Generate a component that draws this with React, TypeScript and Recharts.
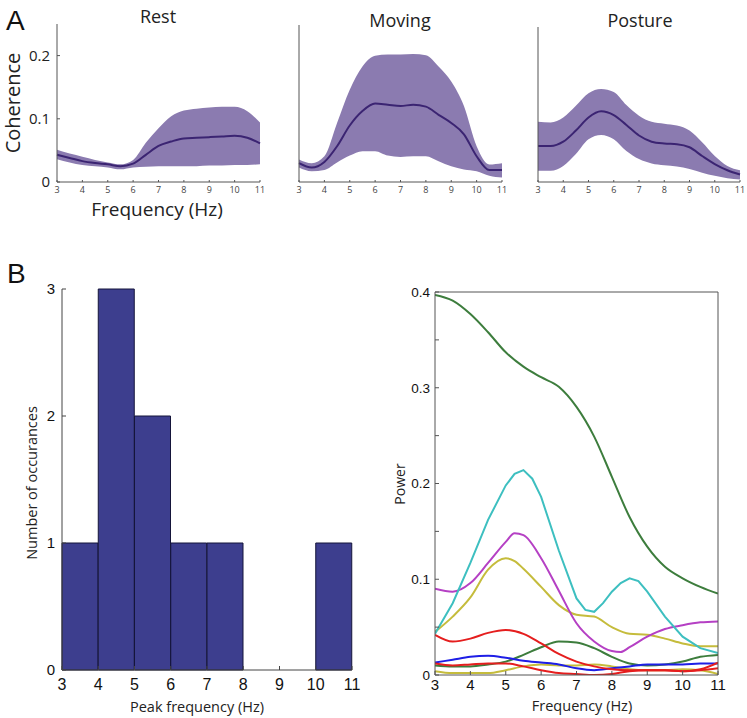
import React from 'react';
import { ComposedChart, LineChart, BarChart, Area, Line, Bar, XAxis, YAxis } from 'recharts';

// ---------- Panel A: coherence ----------
const cohFreq = [3, 3.5, 4, 4.5, 5, 5.5, 6, 6.5, 7, 7.5, 8, 8.5, 9, 9.5, 10, 10.5, 11];

const restMean = [0.043, 0.038, 0.033, 0.030, 0.028, 0.025, 0.029, 0.043, 0.057, 0.064, 0.069, 0.070, 0.071, 0.072, 0.073, 0.070, 0.061];
const restLower = [0.036, 0.031, 0.027, 0.025, 0.023, 0.020, 0.023, 0.024, 0.025, 0.025, 0.025, 0.025, 0.026, 0.026, 0.027, 0.027, 0.028];
const restUpper = [0.051, 0.045, 0.040, 0.035, 0.031, 0.028, 0.035, 0.062, 0.085, 0.104, 0.113, 0.116, 0.118, 0.119, 0.119, 0.112, 0.094];

const movingMean = [0.030, 0.023, 0.032, 0.057, 0.090, 0.113, 0.125, 0.123, 0.121, 0.123, 0.120, 0.107, 0.094, 0.076, 0.041, 0.019, 0.019];
const movingLower = [0.023, 0.017, 0.019, 0.031, 0.042, 0.049, 0.049, 0.042, 0.040, 0.041, 0.041, 0.033, 0.025, 0.020, 0.017, 0.010, 0.007];
const movingUpper = [0.036, 0.030, 0.041, 0.094, 0.147, 0.184, 0.201, 0.203, 0.203, 0.204, 0.202, 0.184, 0.160, 0.121, 0.057, 0.028, 0.030];

const postureMean = [0.058, 0.058, 0.065, 0.083, 0.104, 0.114, 0.108, 0.092, 0.075, 0.065, 0.062, 0.061, 0.056, 0.042, 0.029, 0.019, 0.012];
const postureLower = [0.018, 0.018, 0.026, 0.045, 0.069, 0.076, 0.069, 0.050, 0.037, 0.030, 0.027, 0.025, 0.021, 0.015, 0.010, 0.006, 0.004];
const postureUpper = [0.097, 0.096, 0.104, 0.123, 0.143, 0.150, 0.145, 0.124, 0.107, 0.097, 0.094, 0.091, 0.083, 0.064, 0.042, 0.026, 0.019];

const freqTicks = [3, 4, 5, 6, 7, 8, 9, 10, 11];
const cohTicks = [0, 0.1, 0.2];

// ---------- Panel B left: histogram ----------
const histBinCenters = [3.5, 4.5, 5.5, 6.5, 7.5, 8.5, 9.5, 10.5];
const histCounts = [1, 3, 2, 1, 1, 0, 0, 1];
const histYTicks = [0, 1, 2, 3];

// ---------- Panel B right: power ----------
const pFreq = [3, 3.5, 4, 4.5, 5, 5.5, 6, 6.5, 7, 7.5, 8, 8.5, 9, 9.5, 10, 10.5, 11];
const greenHigh = [0.397, 0.391, 0.377, 0.358, 0.337, 0.322, 0.311, 0.301, 0.280, 0.249, 0.207, 0.165, 0.134, 0.113, 0.101, 0.092, 0.085];
const redHigh = [0.042, 0.035, 0.038, 0.044, 0.047, 0.043, 0.033, 0.022, 0.014, 0.009, 0.006, 0.005, 0.005, 0.005, 0.004, 0.005, 0.007];
const redLow = [0.012, 0.010, 0.011, 0.012, 0.012, 0.009, 0.005, 0.002, 0.001, 0.000, 0.001, 0.004, 0.005, 0.005, 0.004, 0.006, 0.013];
const bluePower = [0.013, 0.016, 0.019, 0.020, 0.018, 0.015, 0.013, 0.011, 0.007, 0.005, 0.007, 0.009, 0.011, 0.011, 0.011, 0.012, 0.012];
const greenLow = [0.010, 0.009, 0.009, 0.011, 0.014, 0.021, 0.029, 0.035, 0.034, 0.028, 0.019, 0.012, 0.010, 0.011, 0.014, 0.019, 0.021];
const yellowLow = [0.004, 0.002, 0.002, 0.002, 0.005, 0.009, 0.011, 0.010, 0.010, 0.011, 0.009, 0.006, 0.005, 0.005, 0.006, 0.005, 0.001];

const cyanFreq = [3, 3.5, 4, 4.5, 5, 5.25, 5.5, 5.75, 6, 6.5, 7, 7.25, 7.5, 7.75, 8, 8.25, 8.5, 8.75, 9, 9.5, 10, 10.5, 11];
const cyanPower = [0.043, 0.075, 0.117, 0.162, 0.198, 0.210, 0.214, 0.205, 0.186, 0.130, 0.080, 0.068, 0.066, 0.075, 0.087, 0.096, 0.101, 0.098, 0.087, 0.061, 0.040, 0.028, 0.023];

const magentaFreq = [3, 3.5, 4, 4.5, 5, 5.25, 5.5, 6, 6.5, 7, 7.5, 8, 8.25, 8.5, 9, 9.5, 10, 10.5, 11];
const magentaPower = [0.090, 0.087, 0.096, 0.117, 0.139, 0.148, 0.146, 0.122, 0.088, 0.054, 0.035, 0.025, 0.024, 0.029, 0.040, 0.048, 0.052, 0.055, 0.056];

const yellowFreq = [3, 3.5, 4, 4.5, 5, 5.25, 5.5, 6, 6.5, 7, 7.5, 8, 8.5, 9, 9.5, 10, 10.5, 11];
const yellowPower = [0.045, 0.061, 0.081, 0.110, 0.122, 0.119, 0.111, 0.092, 0.073, 0.063, 0.061, 0.050, 0.043, 0.042, 0.038, 0.033, 0.030, 0.030];

const powerYTicks = [0, 0.05, 0.1, 0.15, 0.2, 0.25, 0.3, 0.35, 0.4];

const SANS = 'Open Sans';
const ARIAL = 'Liberation Sans';

const toSeries = (xs: number[], ys: number[]) => xs.map((f, i) => ({ f, p: ys[i] }));

type CohProps = {
  left: number; top: number; width: number; height: number;
  margin: { top: number; right: number; bottom: number; left: number };
  mean: number[]; lower: number[]; upper: number[]; showY: boolean;
};

function CoherencePanel({ left, top, width, height, margin, mean, lower, upper, showY }: CohProps) {
  const data = cohFreq.map((f, i) => ({ f, band: [lower[i], upper[i]], mean: mean[i] }));
  return (
    <div style={{ position: 'absolute', left, top }}>
      <ComposedChart width={width} height={height} data={data} margin={margin}>
        <XAxis
          dataKey="f" type="number" domain={[3, 11]} ticks={freqTicks} interval={0}
          height={20} tickSize={-2} tickMargin={7} stroke="#555"
          tick={{ fontSize: 9, fill: '#444', fontFamily: SANS }}
        />
        <YAxis
          type="number" domain={[0, 0.25]} ticks={cohTicks} interval={0}
          width={30} tickSize={-3} tickMargin={10} stroke="#555"
          tick={showY ? { fontSize: 15, fill: '#222', fontFamily: SANS } : false}
          tickFormatter={(v: number) => (v === 0 ? '0' : v.toFixed(1))}
        />
        <Area dataKey="band" type="monotone" stroke="none" fill="#8b7bb0" fillOpacity={1} isAnimationActive={false} />
        <Line dataKey="mean" type="monotone" stroke="#3b2472" strokeWidth={2} dot={false} activeDot={false} isAnimationActive={false} />
      </ComposedChart>
    </div>
  );
}

function Histogram() {
  const data = histBinCenters.map((c, i) => ({ c, n: histCounts[i] }));
  return (
    <div style={{ position: 'absolute', left: 0, top: 270 }}>
      <BarChart width={370} height={448} data={data} margin={{ top: 19, right: 18, bottom: 23, left: 22 }} barCategoryGap={0} barGap={0}>
        <XAxis
          dataKey="c" type="number" domain={[3, 11]} ticks={freqTicks} interval={0}
          height={25} tickSize={-4} tickMargin={13} stroke="#444"
          tick={{ fontSize: 16, fill: '#111', fontFamily: ARIAL }}
        />
        <YAxis
          type="number" domain={[0, 3]} ticks={histYTicks} interval={0}
          width={40} tickSize={-4} tickMargin={11} stroke="#444"
          tick={{ fontSize: 15, fill: '#111', fontFamily: ARIAL }}
        />
        <Bar dataKey="n" fill="#3d3e8e" stroke="#15153a" strokeWidth={1} barSize={36} isAnimationActive={false} />
      </BarChart>
    </div>
  );
}

function PowerChart() {
  const lineProps = { type: 'monotone' as const, strokeWidth: 2, dot: false, activeDot: false, isAnimationActive: false, xAxisId: 'b', yAxisId: 'l', dataKey: 'p' };
  const fmtY = (v: number) => {
    const t = v * 10;
    if (Math.abs(t - Math.round(t)) > 1e-6) return '';
    return v === 0 ? '0' : v.toFixed(1);
  };
  return (
    <div style={{ position: 'absolute', left: 370, top: 270 }}>
      <LineChart width={377} height={448} margin={{ top: 20, right: 27, bottom: 18, left: 25 }}>
        <XAxis
          xAxisId="b" dataKey="f" type="number" domain={[3, 11]} ticks={freqTicks} interval={0}
          height={25} tickSize={-4} tickMargin={8} stroke="#555" allowDataOverflow
          tick={{ fontSize: 15, fill: '#111', fontFamily: ARIAL }}
        />
        <XAxis
          xAxisId="t" orientation="top" dataKey="f" type="number" domain={[3, 11]} ticks={freqTicks} interval={0}
          height={2} tickSize={-4} stroke="#555" tick={false} allowDataOverflow
        />
        <YAxis
          yAxisId="l" type="number" domain={[0, 0.4]} ticks={powerYTicks} interval={0}
          width={40} tickSize={-4} tickMargin={9} stroke="#555" allowDataOverflow
          tick={{ fontSize: 13.5, fill: '#111', fontFamily: ARIAL }} tickFormatter={fmtY}
        />
        <YAxis
          yAxisId="r" orientation="right" type="number" domain={[0, 0.4]} ticks={powerYTicks} interval={0}
          width={2} tickSize={-4} stroke="#555" tick={false} allowDataOverflow
        />
        <Line {...lineProps} data={toSeries(pFreq, greenLow)} stroke="#3d7d3d" />
        <Line {...lineProps} data={toSeries(pFreq, yellowLow)} stroke="#c5bc3c" />
        <Line {...lineProps} data={toSeries(pFreq, bluePower)} stroke="#1e1ee6" />
        <Line {...lineProps} data={toSeries(pFreq, redLow)} stroke="#e51e1e" />
        <Line {...lineProps} data={toSeries(pFreq, redHigh)} stroke="#e51e1e" />
        <Line {...lineProps} data={toSeries(yellowFreq, yellowPower)} stroke="#c5bc3c" />
        <Line {...lineProps} data={toSeries(magentaFreq, magentaPower)} stroke="#b540c4" />
        <Line {...lineProps} type="linear" data={toSeries(cyanFreq, cyanPower)} stroke="#3dbfc0" />
        <Line {...lineProps} data={toSeries(pFreq, greenHigh)} stroke="#3d7d3d" />
        <Line
          xAxisId="t" yAxisId="r" dataKey="p" data={toSeries(pFreq, greenHigh)}
          stroke="none" dot={false} activeDot={false} isAnimationActive={false}
        />
      </LineChart>
    </div>
  );
}

export default function App() {
  return (
    <div style={{ position: 'absolute', left: 0, top: 0, width: 747, height: 718, background: '#fff', overflow: 'hidden' }}>
      <CoherencePanel left={0} top={0} width={290} height={230}
        margin={{ top: 24, right: 30, bottom: 28, left: 27 }}
        mean={restMean} lower={restLower} upper={restUpper} showY />
      <CoherencePanel left={260} top={0} width={260} height={230}
        margin={{ top: 25, right: 18, bottom: 28, left: 9 }}
        mean={movingMean} lower={movingLower} upper={movingUpper} showY={false} />
      <CoherencePanel left={500} top={0} width={247} height={230}
        margin={{ top: 27, right: 7, bottom: 28, left: 8 }}
        mean={postureMean} lower={postureLower} upper={postureUpper} showY={false} />
      <Histogram />
      <PowerChart />
      <svg width={747} height={718} style={{ position: 'absolute', left: 0, top: 0, pointerEvents: 'none' }}>
        <text x={6} y={30} fontSize={28} fontFamily={ARIAL} fill="#111">A</text>
        <text x={158} y={23} fontSize={18} fontFamily={SANS} fill="#222" textAnchor="middle">Rest</text>
        <text x={400} y={27} fontSize={18} fontFamily={SANS} fill="#222" textAnchor="middle">Moving</text>
        <text x={640} y={27} fontSize={18} fontFamily={SANS} fill="#222" textAnchor="middle">Posture</text>
        <text x={20} y={103} fontSize={20} fontFamily={SANS} fill="#222" textAnchor="middle" transform="rotate(-90 20 103)">Coherence</text>
        <text x={157} y={216} fontSize={19} fontFamily={SANS} fill="#222" textAnchor="middle">Frequency (Hz)</text>
        <text x={7} y={283} fontSize={28} fontFamily={ARIAL} fill="#111">B</text>
        <text x={37} y={483} fontSize={14.5} fontFamily={SANS} fill="#222" textAnchor="middle" transform="rotate(-90 37 483)">Number of occurances</text>
        <text x={197} y={712} fontSize={14.5} fontFamily={SANS} fill="#222" textAnchor="middle">Peak frequency (Hz)</text>
        <text x={405} y={484} fontSize={14} fontFamily={SANS} fill="#222" textAnchor="middle" transform="rotate(-90 405 484)">Power</text>
        <text x={582} y={711} fontSize={14.5} fontFamily={SANS} fill="#222" textAnchor="middle">Frequency (Hz)</text>
      </svg>
    </div>
  );
}
